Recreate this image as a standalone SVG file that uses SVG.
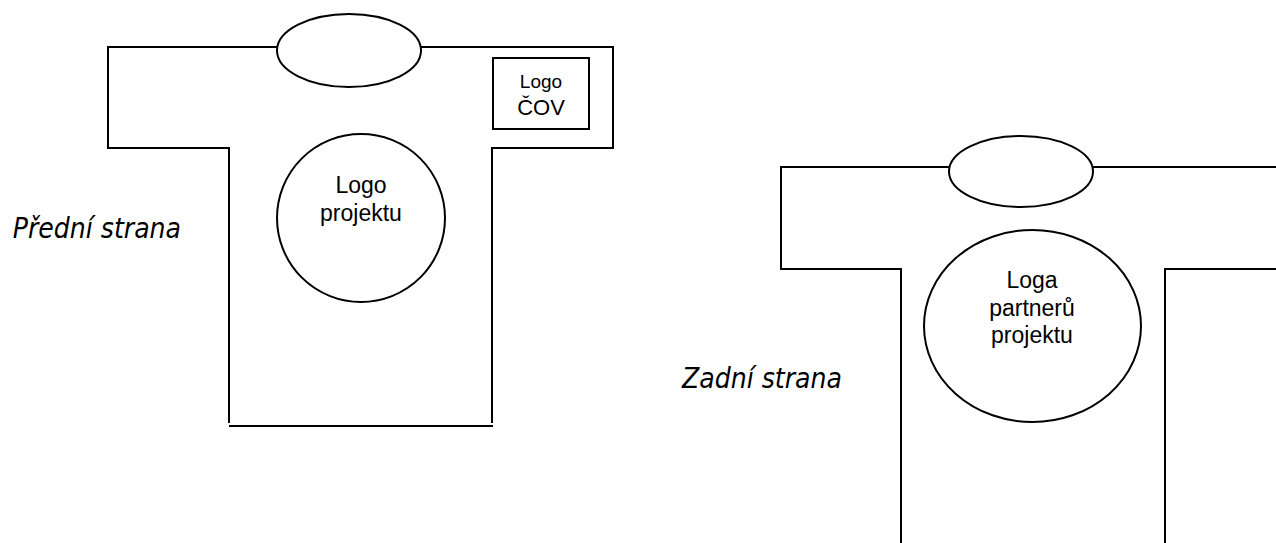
<svg xmlns="http://www.w3.org/2000/svg" width="1276" height="543" viewBox="0 0 1276 543">
<style>
.ln{fill:none;stroke:#000;stroke-width:2}
.sh{fill:#fff;stroke:#000;stroke-width:2}
.t{font-family:"Liberation Sans",Arial,sans-serif;font-size:23px;fill:#000;text-anchor:middle}
.lab{font-family:"DejaVu Sans Condensed","DejaVu Sans",sans-serif;font-style:italic;font-size:28px;fill:#000}
</style>
<rect width="1276" height="543" fill="#fff"/>
<g id="front">
<path class="ln" d="M229,423 V148 H108 V47 H613 V148 H492 V423"/>
<line class="ln" x1="229" y1="426" x2="493" y2="426"/>
<ellipse class="sh" cx="349" cy="50.5" rx="72" ry="36.5"/>
<rect class="sh" x="493" y="58" width="96" height="71"/>
<text class="t" x="541" y="88" style="font-size:19px">Logo</text>
<text class="t" x="541" y="115" style="font-size:22px">ČOV</text>
<circle class="sh" cx="361" cy="218" r="84"/>
<text class="t" x="361" y="193">Logo</text>
<text class="t" x="361" y="221">projektu</text>
</g>
<g id="front-label"><text class="lab" x="181" y="238" text-anchor="end">Přední strana</text></g>
<g id="back">
<path class="ln" d="M901,543 V269 H781 V167 H1276"/>
<path class="ln" d="M1165,543 V269 H1276"/>
<ellipse class="sh" cx="1021" cy="171.5" rx="72" ry="35.5"/>
<ellipse class="sh" cx="1032.5" cy="326" rx="108.5" ry="96"/>
<text class="t" x="1032" y="288">Loga</text>
<text class="t" x="1032" y="316">partnerů</text>
<text class="t" x="1032" y="343">projektu</text>
</g>
<g id="back-label"><text class="lab" x="682" y="388">Zadní strana</text></g>
</svg>
